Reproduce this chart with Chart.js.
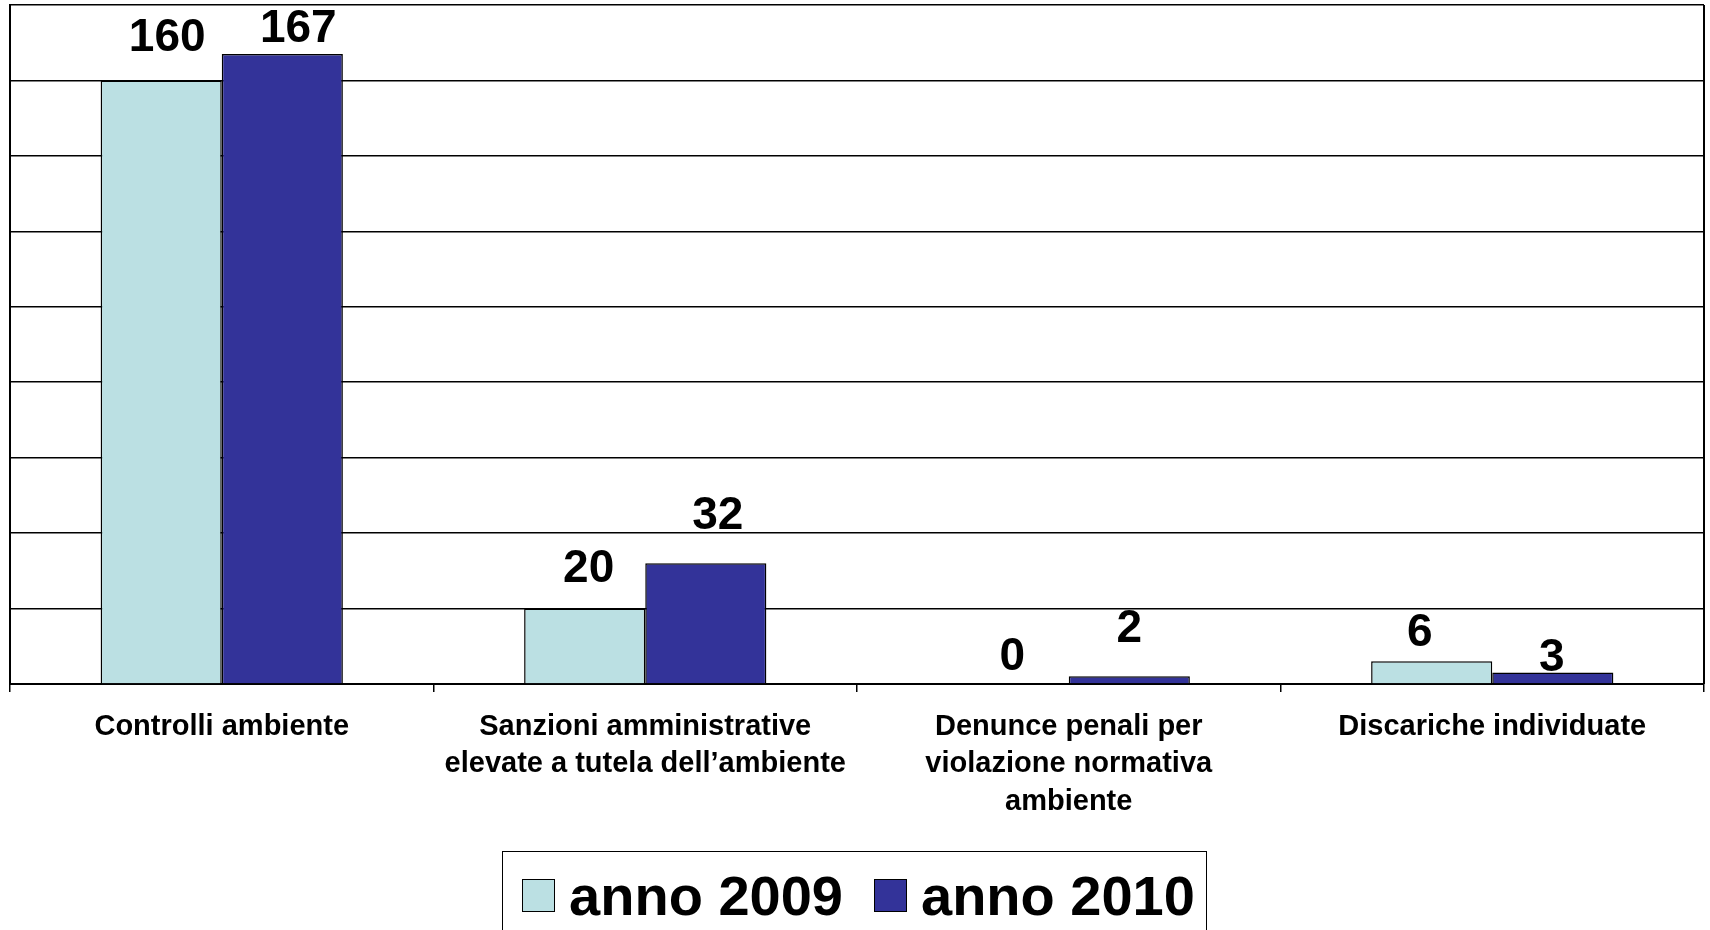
<!DOCTYPE html>
<html lang="it">
<head>
<meta charset="UTF-8" />
<title>Controlli ambiente 2009 - 2010</title>
<script src="https://cdn.jsdelivr.net/npm/chart.js"></script>
<style>
  body { margin: 0; background: #fff; overflow: hidden; font-family: "Liberation Sans", Arial, sans-serif; }
  #wrap { position: relative; width: 1710px; height: 930px; }
  #grafico { position: absolute; left: 0; top: 0; }
  #legenda {
    position: absolute; left: 502px; top: 851px; width: 695px; height: 86px; padding-left: 8px;
    border: 1.5px solid #000; display: flex; justify-content: center; align-items: center; gap: 31px;
    font-weight: bold; font-size: 56px; color: #000; white-space: nowrap;
  }
  #legenda .voce { display: flex; align-items: center; flex-shrink: 0; }
  #legenda .quad { width: 31px; height: 31px; border: 1.5px solid #000; margin-right: 14px; flex-shrink: 0; }
</style>
</head>
<body>
<div id="wrap">
  <canvas id="grafico" width="1710" height="840"></canvas>
  <div id="legenda"></div>
</div>
<script>
  // dati
  const categorie = [
    ["Controlli ambiente"],
    ["Sanzioni amministrative", "elevate a tutela dell\u2019ambiente"],
    ["Denunce penali per", "violazione normativa", "ambiente"],
    ["Discariche individuate"]
  ];
  const anno2009 = [160, 20, 0, 6];
  const anno2010 = [167, 32, 2, 3];
  const asseMax = 180;
  const assePasso = 20;

  // spostamento delle etichette rispetto alla cima della barra (px)
  const alzata = [[29, 26, 14, 15], [12, 34, 34, 2]];
  const spostX = [[6, 4, 4, -12], [16, 12, 0, -1]];

  const FONT = '"Liberation Sans", Arial, sans-serif';

  // valori sopra le barre
  const etichette = {
    id: "etichette",
    afterDatasetsDraw(chart) {
      const ctx = chart.ctx;
      ctx.save();
      ctx.font = "bold 46px " + FONT;
      ctx.fillStyle = "#000";
      ctx.textAlign = "center";
      ctx.textBaseline = "alphabetic";
      chart.data.datasets.forEach((ds, d) => {
        chart.getDatasetMeta(d).data.forEach((bar, i) => {
          ctx.fillText(ds.data[i], bar.x + spostX[d][i], bar.y - alzata[d][i]);
        });
      });
      ctx.restore();
    }
  };

  // bordo destro dell'area del grafico
  const bordoDestro = {
    id: "bordoDestro",
    afterDraw(chart) {
      const { ctx, chartArea } = chart;
      ctx.save();
      ctx.strokeStyle = "#000";
      ctx.lineWidth = 2;
      ctx.beginPath();
      ctx.moveTo(chartArea.right, chartArea.top);
      ctx.lineTo(chartArea.right, chartArea.bottom);
      ctx.stroke();
      ctx.restore();
    }
  };

  const serie = [
    { label: "anno 2009", data: anno2009, backgroundColor: "#BBE0E3" },
    { label: "anno 2010", data: anno2010, backgroundColor: "#333399" }
  ];

  const grafico = new Chart(document.querySelector("#grafico"), {
    type: "bar",
    data: {
      labels: categorie,
      datasets: serie.map(s => ({
        ...s,
        borderColor: "#000",
        borderWidth: 1.5,
        barPercentage: 1,
        categoryPercentage: 0.572
      }))
    },
    options: {
      responsive: false,
      animation: false,
      layout: { padding: { left: 10, right: 6, top: 5, bottom: 3 } },
      plugins: {
        legend: { display: false },
        tooltip: { enabled: false }
      },
      scales: {
        x: {
          grid: { drawOnChartArea: false, drawTicks: true, tickLength: 8, color: "#000", lineWidth: 1.5 },
          border: { display: true, color: "#000", width: 2 },
          ticks: {
            color: "#000",
            font: { family: FONT, size: 29, weight: "bold", lineHeight: 1.3 },
            padding: 16,
            maxRotation: 0,
            autoSkip: false
          }
        },
        y: {
          min: 0,
          max: asseMax,
          ticks: { display: false, stepSize: assePasso },
          grid: { color: "#000", lineWidth: 1.5, drawTicks: false },
          border: { display: true, color: "#000", width: 2 }
        }
      }
    },
    plugins: [etichette, bordoDestro]
  });

  // legenda con riquadro
  const legenda = document.querySelector("#legenda");
  serie.forEach(s => {
    const voce = document.createElement("div");
    voce.className = "voce";
    const quad = document.createElement("span");
    quad.className = "quad";
    quad.style.background = s.backgroundColor;
    const testo = document.createElement("span");
    testo.textContent = s.label;
    voce.appendChild(quad);
    voce.appendChild(testo);
    legenda.appendChild(voce);
  });
</script>
</body>
</html>
